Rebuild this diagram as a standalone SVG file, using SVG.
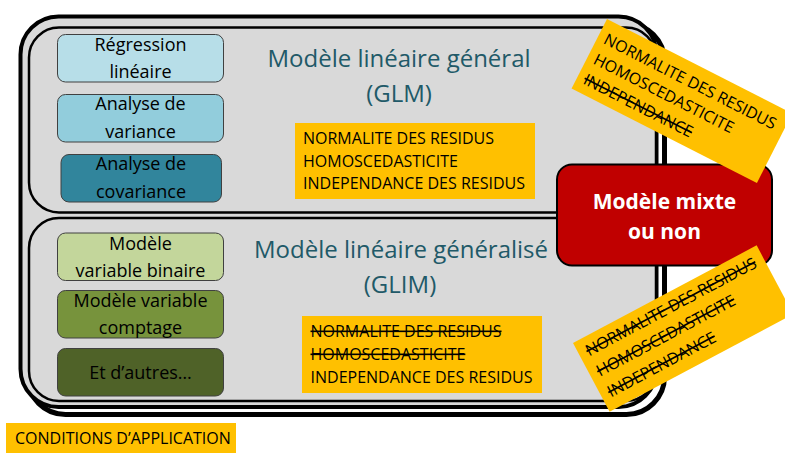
<svg xmlns="http://www.w3.org/2000/svg" width="785" height="465" viewBox="0 0 785 465">
<style>
text{font-family:"Open Sans","Noto Sans","Liberation Sans",sans-serif;}
.lbl{font-size:18px;fill:#000;text-anchor:middle;}
.head{font-size:24px;fill:#215968;text-anchor:middle;}
.cond{font-size:16px;fill:#000;}
.strike{text-decoration:line-through;}
.box{stroke:#404040;stroke-width:1;}
.panel{fill:#d9d9d9;stroke:#000;stroke-width:2.5;}
.orange{fill:#ffc000;}
</style>
<rect width="785" height="465" fill="#fff"/>
<g id="frame">
<rect x="27.5" y="23.5" width="637" height="391" rx="38" fill="none" stroke="#000" stroke-width="5"/>
<rect x="20.5" y="16.5" width="636" height="390.5" rx="38" fill="#d9d9d9" stroke="#000" stroke-width="4"/>
</g>
<g id="panel-glm">
<rect class="panel" x="29" y="27.5" width="627" height="185" rx="30"/>
<text class="head" x="399" y="67">Modèle linéaire général</text>
<text class="head" x="399" y="102">(GLM)</text>
</g>
<g id="panel-glim">
<rect class="panel" x="29" y="218" width="627" height="183" rx="30"/>
<text class="head" x="401" y="258">Modèle linéaire généralisé</text>
<text class="head" x="400" y="293">(GLIM)</text>
</g>
<g id="regression">
<rect class="box" x="57.5" y="34.5" width="166" height="47.5" rx="8" fill="#b7dee8"/>
<text class="lbl" x="140.5" y="51">Régression</text>
<text class="lbl" x="140.5" y="77.5">linéaire</text>
</g>
<g id="variance">
<rect class="box" x="57.5" y="94.5" width="166" height="47.5" rx="8" fill="#92cddc"/>
<text class="lbl" x="140.5" y="110">Analyse de</text>
<text class="lbl" x="140.5" y="137.5">variance</text>
</g>
<g id="covariance">
<rect class="box" x="61" y="154.5" width="160.5" height="47.5" rx="8" fill="#31859c"/>
<text class="lbl" x="141" y="170">Analyse de</text>
<text class="lbl" x="141" y="197.5">covariance</text>
</g>
<g id="binaire">
<rect class="box" x="57.5" y="233" width="166" height="47.5" rx="8" fill="#c3d69b"/>
<text class="lbl" x="140.5" y="249.5">Modèle</text>
<text class="lbl" x="140.5" y="277">variable binaire</text>
</g>
<g id="comptage">
<rect class="box" x="57.5" y="290.5" width="166" height="47.5" rx="8" fill="#77933c"/>
<text class="lbl" x="140.5" y="307">Modèle variable</text>
<text class="lbl" x="140.5" y="334">comptage</text>
</g>
<g id="autres">
<rect class="box" x="57.5" y="348.5" width="166" height="47.5" rx="8" fill="#4f6228"/>
<text class="lbl" x="140.5" y="378.5">Et d’autres…</text>
</g>
<g id="conditions-glm">
<rect class="orange" x="295" y="123" width="240" height="76"/>
<text class="cond" x="303" y="144">NORMALITE DES RESIDUS</text>
<text class="cond" x="303" y="166.5">HOMOSCEDASTICITE</text>
<text class="cond" x="303" y="189">INDEPENDANCE DES RESIDUS</text>
</g>
<g id="conditions-glim">
<rect class="orange" x="302" y="316" width="240" height="77"/>
<text class="cond strike" x="310.5" y="337">NORMALITE DES RESIDUS</text>
<text class="cond strike" x="310.5" y="360">HOMOSCEDASTICITE</text>
<text class="cond" x="310.5" y="383">INDEPENDANCE DES RESIDUS</text>
</g>
<g id="mixte">
<rect x="557" y="164.5" width="215" height="101" rx="15" fill="#c00000" stroke="#000" stroke-width="2"/>
<text x="664.5" y="209" font-size="21" font-weight="bold" fill="#fff" text-anchor="middle">Modèle mixte</text>
<text x="664.5" y="238.5" font-size="21" font-weight="bold" fill="#fff" text-anchor="middle">ou non</text>
</g>
<g id="conditions-mixte-glm" transform="translate(607,19) rotate(27)">
<rect class="orange" x="0" y="0" width="208" height="78"/>
<text class="cond" x="7" y="23.5">NORMALITE DES RESIDUS</text>
<text class="cond" x="7" y="46">HOMOSCEDASTICITE</text>
<text class="cond strike" x="7" y="68.5">INDEPENDANCE</text>
</g>
<g id="conditions-mixte-glim" transform="translate(573,343) rotate(-28)">
<rect class="orange" x="0" y="0" width="208" height="78"/>
<text class="cond strike" x="8" y="19.5">NORMALITE DES RESIDUS</text>
<text class="cond strike" x="8" y="42.5">HOMOSCEDASTICITE</text>
<text class="cond strike" x="8" y="66">INDEPENDANCE</text>
</g>
<g id="legende">
<rect class="orange" x="6" y="423" width="230" height="30"/>
<text class="cond" x="15" y="443.5">CONDITIONS D’APPLICATION</text>
</g>
<g id="connectors"/>
</svg>
